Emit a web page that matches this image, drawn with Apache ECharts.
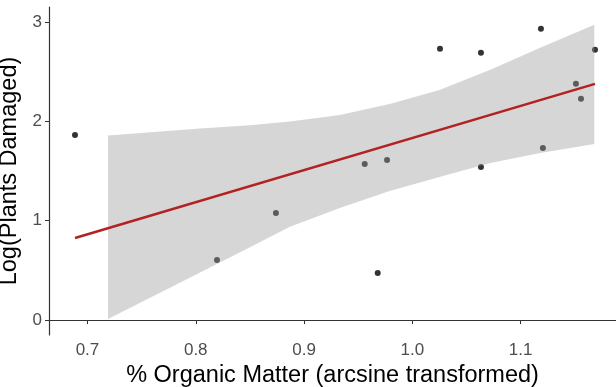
<!DOCTYPE html>
<html>
<head>
<meta charset="utf-8">
<script src="https://cdn.jsdelivr.net/npm/echarts@6/dist/echarts.min.js"></script>
<style>
html, body { margin: 0; padding: 0; background: #fff; }
#chart { width: 616px; height: 387px; }
</style>
</head>
<body>
<div id="chart"></div>
<script>
// observed points
var pointX = [0.6885, 0.8196, 0.874, 0.956, 0.9766, 0.968, 1.0255, 1.0633, 1.0633, 1.1187, 1.1205, 1.151, 1.1557, 1.1686];
var pointY = [1.863, 0.604, 1.077, 1.571, 1.611, 0.473, 2.729, 2.689, 1.541, 2.93, 1.732, 2.377, 2.226, 2.719];

// fitted line ends
var fitX = [0.6885, 1.1686];
var fitY = [0.826, 2.377];

// confidence band (clipped at 0 on the left)
var bandX = [0.719, 0.804, 0.850, 0.887, 0.933, 0.979, 1.025, 1.072, 1.118, 1.168];
var bandLower = [0.01, 0.478, 0.732, 0.940, 1.128, 1.299, 1.440, 1.581, 1.682, 1.772];
var bandUpper = [1.856, 1.928, 1.961, 1.997, 2.064, 2.175, 2.316, 2.518, 2.739, 2.971];

var xTicks = [0.7, 0.8, 0.9, 1.0, 1.1];
var yTicks = [0, 1, 2, 3];

var chart = echarts.init(document.getElementById('chart'));

var font = 'Liberation Sans, Arial, sans-serif';

var option = {
    animation: false,
    grid: { left: 49, right: 0, top: 7, bottom: 52, outerBoundsMode: 'none', containLabel: false },
    xAxis: {
        type: 'value',
        min: 0.6645,
        max: 1.188,
        name: '% Organic Matter (arcsine transformed)',
        nameLocation: 'middle',
        nameGap: 22,
        nameTextStyle: { color: '#000', fontSize: 23.5, fontFamily: font },
        splitLine: { show: false },
        axisLine: { show: true, lineStyle: { color: '#333', width: 1.2 } },
        axisTick: { show: true, length: 4, customValues: xTicks, lineStyle: { color: '#333' } },
        axisLabel: {
            customValues: xTicks, color: '#4d4d4d', fontSize: 17, margin: 7, fontFamily: font,
            formatter: function (v) { return v.toFixed(1); }
        }
    },
    yAxis: {
        type: 'value',
        min: -0.15,
        max: 3.15,
        name: 'Log(Plants Damaged)',
        nameLocation: 'middle',
        nameGap: 18,
        nameTextStyle: { color: '#000', fontSize: 23.5, fontFamily: font },
        splitLine: { show: false },
        axisLine: { show: true, lineStyle: { color: '#333', width: 1.2 } },
        axisTick: { show: true, length: 4, customValues: yTicks, lineStyle: { color: '#333' } },
        axisLabel: { customValues: yTicks, color: '#4d4d4d', fontSize: 17, margin: 7, fontFamily: font }
    },
    series: [
        {
            type: 'scatter',
            symbolSize: 6,
            itemStyle: { color: '#000' },
            z: 2,
            data: pointX.map(function (x, i) { return [x, pointY[i]]; })
        },
        {
            type: 'custom',
            z: 3,
            silent: true,
            data: [[bandX[0], bandLower[0]]],
            renderItem: function (params, api) {
                var pts = [];
                for (var i = 0; i < bandX.length; i++) pts.push(api.coord([bandX[i], bandUpper[i]]));
                for (var j = bandX.length - 1; j >= 0; j--) pts.push(api.coord([bandX[j], bandLower[j]]));
                return {
                    type: 'polygon',
                    shape: { points: pts },
                    style: { fill: 'rgba(153,153,153,0.4)' }
                };
            }
        },
        {
            type: 'line',
            z: 4,
            symbol: 'none',
            lineStyle: { color: '#b22222', width: 2.5 },
            data: fitX.map(function (x, i) { return [x, fitY[i]]; })
        }
    ]
};

chart.setOption(option);
</script>
</body>
</html>
